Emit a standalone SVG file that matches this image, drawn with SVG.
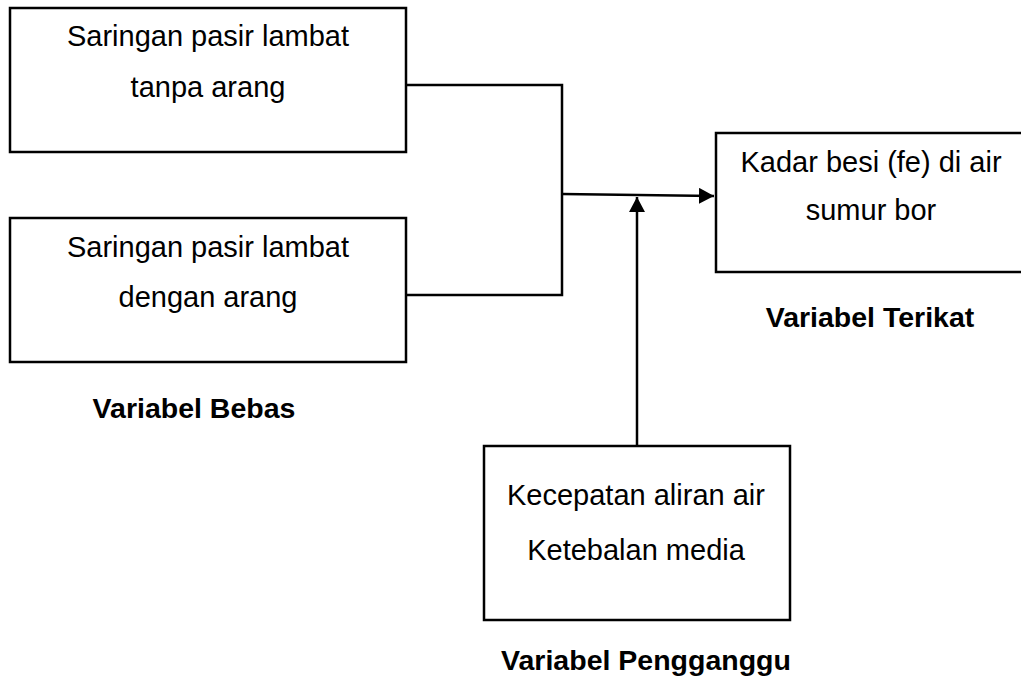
<svg xmlns="http://www.w3.org/2000/svg" width="1021" height="681" viewBox="0 0 1021 681">
<defs>
<style>
.box{fill:#fff;stroke:#000;stroke-width:2.5}
.t{font-family:"Liberation Sans",Arial,sans-serif;font-size:29px;fill:#000;text-anchor:middle}
.b{font-family:"Liberation Sans",Arial,sans-serif;font-size:28.5px;font-weight:bold;fill:#000;text-anchor:middle}
.c{fill:none;stroke:#000;stroke-width:2.5}
</style>
<marker id="arr" viewBox="0 0 15 16" refX="15" refY="8" markerWidth="15" markerHeight="16" orient="auto" markerUnits="userSpaceOnUse">
<path d="M0,0 L15,8 L0,16 z" fill="#000"/>
</marker>
</defs>
<rect width="1021" height="681" fill="#fff"/>
<g id="connectors">
<polyline class="c" points="406,85 562,85 562,295 406,295"/>
<line class="c" x1="562" y1="194" x2="714" y2="196" marker-end="url(#arr)"/>
<line class="c" x1="637" y1="446" x2="637" y2="197" marker-end="url(#arr)"/>
</g>
<g id="node1">
<rect class="box" x="10" y="8" width="396" height="144"/>
<text class="t" x="208" y="46">Saringan pasir lambat</text>
<text class="t" x="208" y="97">tanpa arang</text>
</g>
<g id="node2">
<rect class="box" x="10" y="218" width="396" height="144"/>
<text class="t" x="208" y="257">Saringan pasir lambat</text>
<text class="t" x="208" y="307">dengan arang</text>
</g>
<g id="label-bebas">
<text class="b" x="194" y="418">Variabel Bebas</text>
</g>
<g id="node3">
<rect class="box" x="716" y="133" width="320" height="139"/>
<text class="t" x="871" y="172">Kadar besi (fe) di air</text>
<text class="t" x="871" y="220">sumur bor</text>
</g>
<g id="label-terikat">
<text class="b" x="870" y="327">Variabel Terikat</text>
</g>
<g id="node4">
<rect class="box" x="484" y="446" width="306" height="174"/>
<text class="t" x="636" y="505">Kecepatan aliran air</text>
<text class="t" x="636" y="560">Ketebalan media</text>
</g>
<g id="label-pengganggu">
<text class="b" x="646" y="670">Variabel Pengganggu</text>
</g>
</svg>
